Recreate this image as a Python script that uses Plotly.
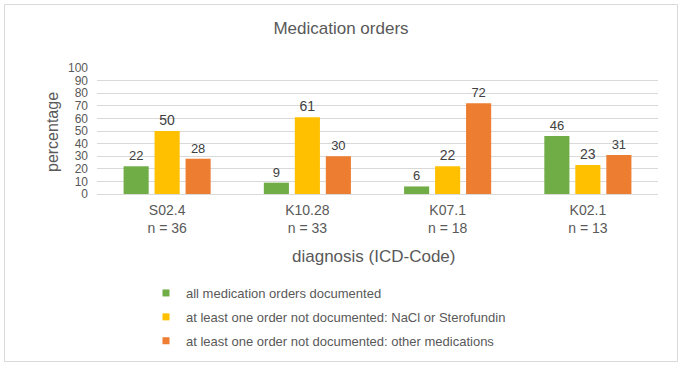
import plotly.graph_objects as go

categories = ["S02.4<br>n = 36", "K10.28<br>n = 33", "K07.1<br>n = 18", "K02.1<br>n = 13"]
series_names = [
    "all medication orders documented",
    "at least one order not documented: NaCl or Sterofundin",
    "at least one order not documented: other medications",
]
all_documented = [22, 9, 6, 46]
nacl_sterofundin = [50, 61, 22, 23]
other_meds = [28, 30, 72, 31]
label_sizes = [[13, 13, 13, 13], [14, 14, 14, 14], [13, 13, 13, 13]]
colors = ["#70AD47", "#FFC000", "#ED7D31"]
x_title = "diagnosis (ICD-Code)"
y_title = "percentage"
chart_title = "Medication orders"

FONT = "Liberation Sans, Arial, sans-serif"
W, H = 682, 366
L, R, T, B = 97, 24, 68, 172
pw, ph = W - L - R, H - T - B

def px_x(x):
    return (x - L) / pw

def px_y(y):
    return (H - B - y) / ph

fig = go.Figure()
for i, (name, vals) in enumerate(zip(series_names, [all_documented, nacl_sterofundin, other_meds])):
    fig.add_trace(go.Bar(
        x=categories, y=vals, name=name,
        marker=dict(color=colors[i], line=dict(width=0)),
        text=[str(v) for v in vals], textposition="outside",
        textfont=dict(family=FONT, size=label_sizes[i], color="#404040"),
        cliponaxis=False, showlegend=False,
    ))
# legend entries with small square swatches
for i, name in enumerate(series_names):
    fig.add_trace(go.Scatter(
        x=[None], y=[None], mode="markers", name=name,
        marker=dict(symbol="square", size=7, color=colors[i]),
        legendgroup=f"g{i}", showlegend=True,
    ))

fig.update_layout(
    width=W, height=H,
    margin=dict(l=L, r=R, t=T, b=B, autoexpand=False),
    paper_bgcolor="white", plot_bgcolor="white",
    font=dict(family=FONT, color="#595959"),
    title=dict(text=chart_title, x=0.5, xanchor="center", y=1 - 28 / H, yanchor="middle",
               font=dict(size=17, color="#595959")),
    barmode="group", bargap=0.337, bargroupgap=0.19,
    showlegend=True,
    legend=dict(xref="container", yref="container", x=146 / W, y=1 - 278 / H,
                xanchor="left", yanchor="top",
                font=dict(size=13, color="#595959"), tracegroupgap=4,
                bgcolor="rgba(0,0,0,0)"),
    xaxis=dict(showgrid=False, showline=True, linecolor="#D9D9D9", linewidth=1,
               tickfont=dict(size=14, color="#595959"), ticks="", automargin=False,
               ticklabelstandoff=3),
    yaxis=dict(range=[0, 100], dtick=10, showgrid=True, gridcolor="#D9D9D9", gridwidth=1,
               zeroline=False, showline=False, ticks="", automargin=False,
               ticklabelstandoff=8,
               tickfont=dict(size=12, color="#595959")),
    annotations=[
        dict(text=x_title, xref="paper", yref="paper", x=px_x(373), y=px_y(256),
             xanchor="center", yanchor="middle", showarrow=False,
             font=dict(size=17, color="#595959")),
        dict(text=y_title, xref="paper", yref="paper", x=px_x(52), y=px_y(132),
             xanchor="center", yanchor="middle", showarrow=False, textangle=-90,
             font=dict(size=16, color="#595959")),
    ],
    shapes=[dict(type="rect", xref="paper", yref="paper",
                 x0=px_x(4.5), x1=px_x(677.5), y0=px_y(361.5), y1=px_y(4.5),
                 line=dict(color="#D9D9D9", width=1), layer="below")],
)

fig.write_html("out.html", config={"displayModeBar": False},
               post_script="document.body.style.margin='0';")
